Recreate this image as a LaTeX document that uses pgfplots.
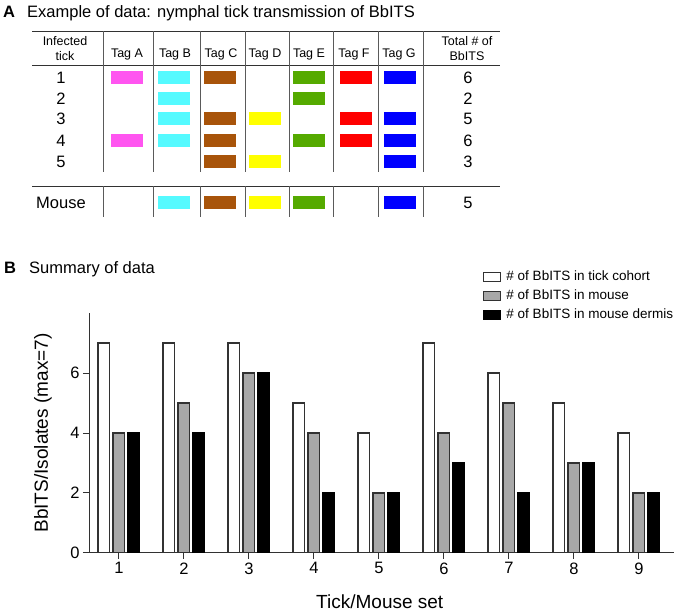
\documentclass[border=0pt]{standalone}
\usepackage{pgfplots}
\pgfplotsset{compat=1.18}
\usepackage{fontspec}
\setmainfont{Liberation Sans}
\definecolor{tagA}{RGB}{255,85,240}
\definecolor{tagB}{RGB}{85,250,255}
\definecolor{tagC}{RGB}{168,84,10}
\definecolor{tagD}{RGB}{255,255,0}
\definecolor{tagE}{RGB}{85,170,0}
\definecolor{tagF}{RGB}{255,0,0}
\definecolor{tagG}{RGB}{0,0,255}
\definecolor{bargray}{RGB}{168,168,168}
\definecolor{lin}{RGB}{50,50,50}
\definecolor{vlin}{RGB}{90,90,90}
\pgfdeclareplotmark{tagbox}{\pgfpathrectangle{\pgfpoint{-16pt}{-6.5pt}}{\pgfpoint{32pt}{13pt}}\pgfusepathqfill}
\newcommand{\fs}[1]{\fontsize{#1}{#1}\selectfont}

\begin{document}
\begin{tikzpicture}
\useasboundingbox (0,0) rectangle (678pt,613pt);
% ---------- Panel A (table), pixel coordinates, y downwards ----------
\begin{axis}[at={(0pt,0pt)},anchor=south west,scale only axis,
  width=678pt,height=613pt,xmin=0,xmax=678,ymin=0,ymax=613,
  y dir=reverse,hide axis,clip=false]
\node[anchor=base west,font=\fs{16.5}\bfseries,inner sep=0] at (axis cs:3,17.5) {A};
\node[anchor=base west,font=\fs{16.5},inner sep=0] at (axis cs:27,17.5) {Example of data: nymphal tick transmission of BbITS};
\node[anchor=base west,font=\fs{16.5}\bfseries,inner sep=0] at (axis cs:4,274) {B};
\node[anchor=base west,font=\fs{16.5},inner sep=0] at (axis cs:29,274) {Summary of data};
% horizontal rules
\draw[lin,line width=1pt] (axis cs:32,31.5) -- (axis cs:500,31.5)
  (axis cs:32,66) -- (axis cs:500,66)
  (axis cs:32,186.5) -- (axis cs:500,186.5);
% vertical rules
\draw[vlin,line width=1pt]
  (axis cs:103,31.5) -- (axis cs:103,172.5) (axis cs:103,186.5) -- (axis cs:103,217)
  (axis cs:153,31.5) -- (axis cs:153,172.5) (axis cs:153,186.5) -- (axis cs:153,217)
  (axis cs:200,31.5) -- (axis cs:200,172.5) (axis cs:200,186.5) -- (axis cs:200,217)
  (axis cs:245,31.5) -- (axis cs:245,172.5) (axis cs:245,186.5) -- (axis cs:245,217)
  (axis cs:289,31.5) -- (axis cs:289,172.5) (axis cs:289,186.5) -- (axis cs:289,217)
  (axis cs:333,31.5) -- (axis cs:333,172.5) (axis cs:333,186.5) -- (axis cs:333,217)
  (axis cs:378,31.5) -- (axis cs:378,172.5) (axis cs:378,186.5) -- (axis cs:378,217)
  (axis cs:423,31.5) -- (axis cs:423,172.5) (axis cs:423,186.5) -- (axis cs:423,217);
% header
\node[anchor=base,font=\fs{12.5},inner sep=0] at (axis cs:65,46) {Infected};
\node[anchor=base,font=\fs{12.5},inner sep=0] at (axis cs:65,61) {tick};
\node[anchor=base,font=\fs{12.5},inner sep=0] at (axis cs:127,57.5) {Tag A};
\node[anchor=base,font=\fs{12.5},inner sep=0] at (axis cs:175,57.5) {Tag B};
\node[anchor=base,font=\fs{12.5},inner sep=0] at (axis cs:221,57.5) {Tag C};
\node[anchor=base,font=\fs{12.5},inner sep=0] at (axis cs:265,57.5) {Tag D};
\node[anchor=base,font=\fs{12.5},inner sep=0] at (axis cs:309,57.5) {Tag E};
\node[anchor=base,font=\fs{12.5},inner sep=0] at (axis cs:354,57.5) {Tag F};
\node[anchor=base,font=\fs{12.5},inner sep=0] at (axis cs:399,57.5) {Tag G};
\node[anchor=base,font=\fs{12.5},inner sep=0] at (axis cs:467,46) {Total \# of};
\node[anchor=base,font=\fs{12.5},inner sep=0] at (axis cs:467,61) {BbITS};
% row labels and totals
\node[anchor=base,font=\fs{16.5},inner sep=0] at (axis cs:61,83.5) {1};
\node[anchor=base,font=\fs{16.5},inner sep=0] at (axis cs:61,104.5) {2};
\node[anchor=base,font=\fs{16.5},inner sep=0] at (axis cs:61,125) {3};
\node[anchor=base,font=\fs{16.5},inner sep=0] at (axis cs:61,146.5) {4};
\node[anchor=base,font=\fs{16.5},inner sep=0] at (axis cs:61,168) {5};
\node[anchor=base,font=\fs{16.5},inner sep=0] at (axis cs:61,208.5) {Mouse};
\node[anchor=base,font=\fs{16.5},inner sep=0] at (axis cs:468,83.5) {6};
\node[anchor=base,font=\fs{16.5},inner sep=0] at (axis cs:468,104.5) {2};
\node[anchor=base,font=\fs{16.5},inner sep=0] at (axis cs:468,125) {5};
\node[anchor=base,font=\fs{16.5},inner sep=0] at (axis cs:468,146.5) {6};
\node[anchor=base,font=\fs{16.5},inner sep=0] at (axis cs:468,168) {3};
\node[anchor=base,font=\fs{16.5},inner sep=0] at (axis cs:468,208.5) {5};
% tag presence boxes (column centre, row centre)
\addplot[only marks,mark=tagbox,color=tagA] coordinates {(127,77.5) (127,140.5)};
\addplot[only marks,mark=tagbox,color=tagB] coordinates {(174,77.5) (174,98.5) (174,119) (174,140.5) (174,202.5)};
\addplot[only marks,mark=tagbox,color=tagC] coordinates {(220,77.5) (220,119) (220,140.5) (220,162) (220,202.5)};
\addplot[only marks,mark=tagbox,color=tagD] coordinates {(265,119) (265,162) (265,202.5)};
\addplot[only marks,mark=tagbox,color=tagE] coordinates {(309,77.5) (309,98.5) (309,140.5) (309,202.5)};
\addplot[only marks,mark=tagbox,color=tagF] coordinates {(355.5,77.5) (355.5,119) (355.5,140.5)};
\addplot[only marks,mark=tagbox,color=tagG] coordinates {(399.5,77.5) (399.5,119) (399.5,140.5) (399.5,162) (399.5,202.5)};
\end{axis}
% ---------- Panel B (bar chart) ----------
\begin{axis}[at={(89pt,60pt)},anchor=south west,scale only axis,
  width=585pt,height=240pt,
  xmin=0.54,xmax=9.54,ymin=0,ymax=8,
  axis x line*=bottom,axis y line*=left,
  axis line style={lin,line width=1pt},
  every tick/.style={lin,line width=1pt},
  tick align=outside,major tick length=6pt,
  xtick={1,2,3,4,5,6,7,8,9},ytick={0,2,4,6},
  /pgf/number format/assume math mode=true,
  ticklabel style={font=\fs{16.5}},
  ybar=3.2pt,bar width=11.8pt,
  every axis x label/.style={at={(axis description cs:0.497,-0.232)},anchor=base},
  every axis y label/.style={at={(axis description cs:-0.0786,0.5)},rotate=90,anchor=center},
  label style={font=\fs{19}},
  xlabel={Tick/Mouse set},
  ylabel={BbITS/Isolates (max=7)},
  legend style={at={(axis description cs:0.6735,1.177)},anchor=north west,
    draw=none,fill=none,inner sep=0pt,row sep=6.5pt,
    font=\fs{13.5},
    nodes={inner sep=0pt,text height=10pt,text depth=2.5pt},
    /tikz/every odd column/.append style={column sep=5pt}},
  legend cell align=left,
  legend image code/.code={\draw[#1] (0pt,-4.5pt) rectangle (17pt,4.5pt);},
]
\addplot[fill=white,draw=lin,line width=1.3pt] coordinates {(1,7) (2,7) (3,7) (4,5) (5,4) (6,7) (7,6) (8,5) (9,4)};
\addlegendentry{\# of BbITS in tick cohort}
\addplot[fill=bargray,draw=lin,line width=1.3pt] coordinates {(1,4) (2,5) (3,6) (4,4) (5,2) (6,4) (7,5) (8,3) (9,2)};
\addlegendentry{\# of BbITS in mouse}
\addplot[fill=black,draw=black,line width=1.3pt] coordinates {(1,4) (2,4) (3,6) (4,2) (5,2) (6,3) (7,2) (8,3) (9,2)};
\addlegendentry{\# of BbITS in mouse dermis}
\end{axis}
\end{tikzpicture}
\end{document}
